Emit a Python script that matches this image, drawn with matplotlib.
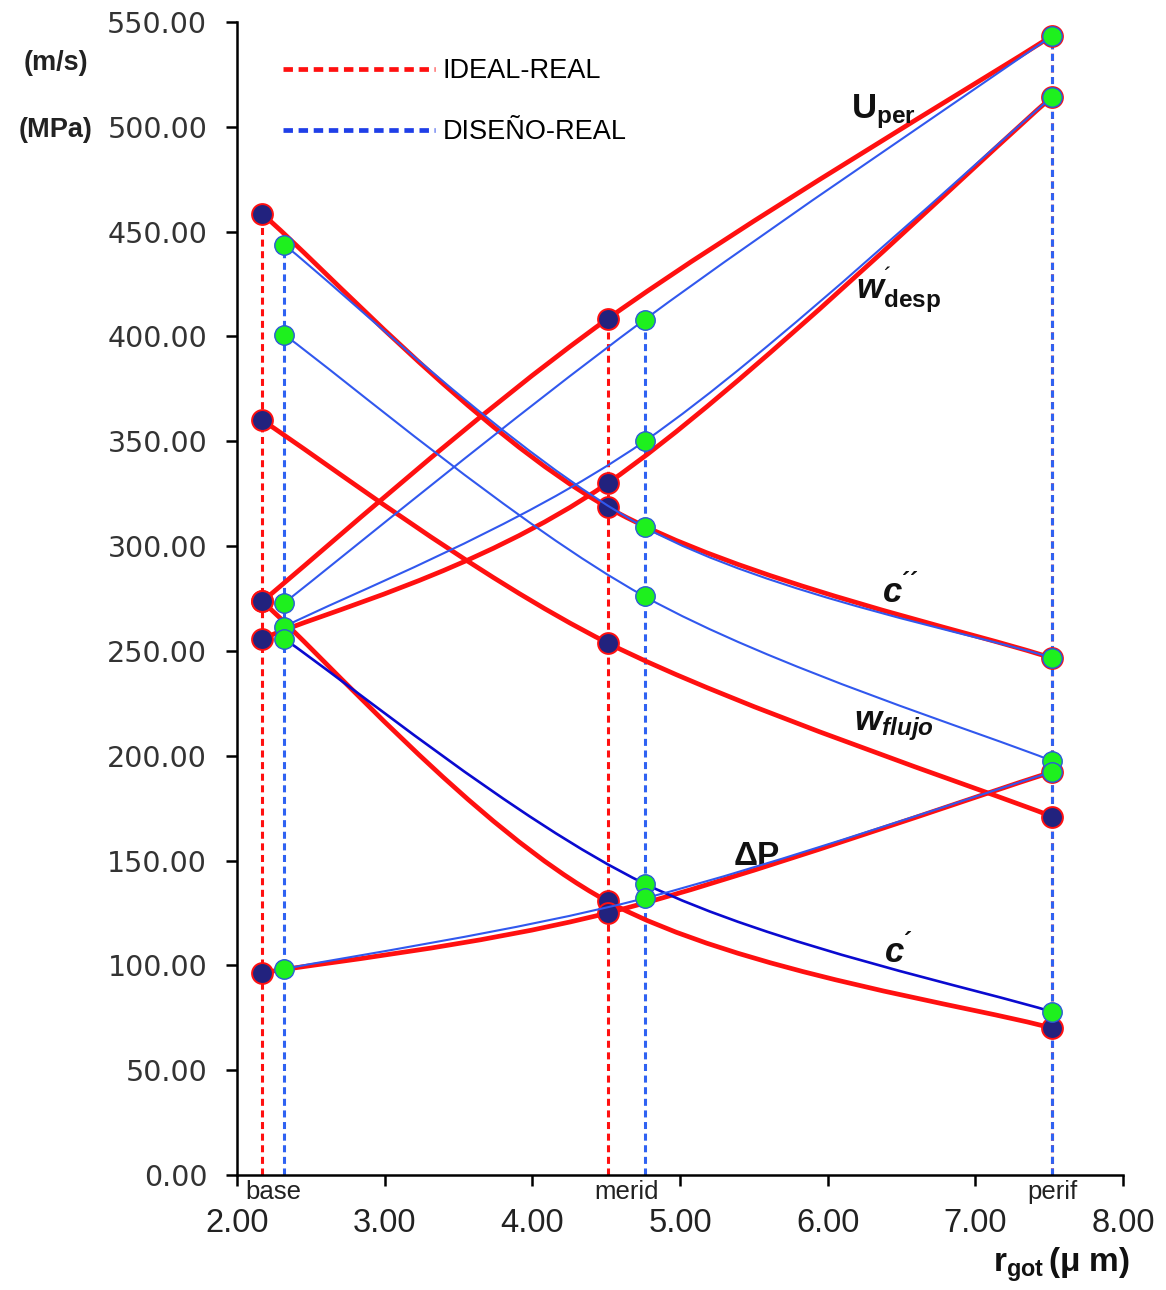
import numpy as np
import matplotlib
matplotlib.use("Agg")
import matplotlib.pyplot as plt
import matplotlib.transforms as mtransforms
from matplotlib.path import Path
from matplotlib.patches import PathPatch
from matplotlib.lines import Line2D
from matplotlib import font_manager

# narrow font if we have it, else plain Liberation Sans
names = {f.name for f in font_manager.fontManager.ttflist}
narrow = "Liberation Sans Narrow" if "Liberation Sans Narrow" in names else "Liberation Sans"

plt.rcParams["font.family"] = [narrow, "DejaVu Sans"]
plt.rcParams["mathtext.fontset"] = "custom"
plt.rcParams["mathtext.rm"] = narrow
plt.rcParams["mathtext.bf"] = narrow + ":bold"
plt.rcParams["mathtext.it"] = narrow + ":italic"
plt.rcParams["mathtext.bfit"] = narrow + ":italic:bold"

# radial positions (r_got, um)
posiciones = ["base", "merid", "perif"]
x_ideal = [2.17, 4.51, 7.52]
x_diseno = [2.32, 4.76, 7.52]

# IDEAL-REAL
ideal_uper = [273.6, 408.4, 543.4]
ideal_wdesp = [255.7, 330.0, 514.3]
ideal_c2 = [458.5, 318.5, 246.5]
ideal_wflujo = [360.0, 253.8, 171.0]
ideal_c1 = [273.6, 130.5, 70.0]
ideal_dp = [96.4, 125.0, 192.3]

# DISEÑO-REAL
diseno_uper = [272.9, 408.0, 543.4]
diseno_wdesp = [261.5, 350.0, 514.3]
diseno_c2 = [443.7, 309.0, 246.7]
diseno_wflujo = [400.8, 276.0, 197.5]
diseno_c1 = [255.7, 139.0, 77.8]
diseno_dp = [98.3, 132.0, 192.3]

ideal_series = [ideal_uper, ideal_wdesp, ideal_c2, ideal_wflujo, ideal_c1, ideal_dp]
diseno_series = [diseno_uper, diseno_wdesp, diseno_c2, diseno_wflujo, diseno_c1, diseno_dp]

x_ticks = [2, 3, 4, 5, 6, 7, 8]
y_ticks = list(range(0, 551, 50))

RED = "#ff1010"
BLUE = "#3158ee"
DARKBLUE = "#0a0ad0"
NAVY = "#22227e"
GREEN = "#1ef01e"


def smooth_path(xs, ys):
    # excel-like smoothed line: cubic bezier through the points
    pts = np.column_stack([xs, ys])
    n = len(pts)
    verts = [pts[0]]
    codes = [Path.MOVETO]
    for i in range(n - 1):
        p0 = pts[i - 1] if i > 0 else pts[i]
        p1 = pts[i]
        p2 = pts[i + 1]
        p3 = pts[i + 2] if i + 2 < n else pts[i + 1]
        verts += [p1 + (p2 - p0) / 6, p2 - (p3 - p1) / 6, p2]
        codes += [Path.CURVE4] * 3
    return Path(verts, codes)


fig = plt.figure(figsize=(11.66, 12.90), dpi=100)
ax = fig.add_axes([237 / 1166, 1 - 1175 / 1290, (1123 - 237) / 1166, (1175 - 22) / 1290])

# vertical dashed guides at each position
vdash = (0, (2.3, 1.5))
for xs, series, col in [(x_ideal, ideal_series, RED), (x_diseno, diseno_series, "#2f62f2")]:
    tops = np.max(np.array(series), axis=0)
    ax.vlines(xs, 0, tops, colors=col, lw=2.2, linestyles=vdash, zorder=1)

# IDEAL lines + markers
for ys in ideal_series:
    ax.add_patch(PathPatch(smooth_path(x_ideal, ys), fill=False, edgecolor=RED, lw=3.4,
                           capstyle="round", joinstyle="round", zorder=2))
for ys in ideal_series:
    ax.plot(x_ideal, ys, "o", ms=15, mfc=NAVY, mec=RED, mew=1.4, zorder=3)

# DISEÑO lines + markers
for ys in diseno_series:
    col = DARKBLUE if ys is diseno_c1 else BLUE
    lw = 1.9 if ys is diseno_c1 else 1.5
    ax.add_patch(PathPatch(smooth_path(x_diseno, ys), fill=False, edgecolor=col, lw=lw,
                           capstyle="round", joinstyle="round", zorder=4))
for ys in diseno_series:
    ax.plot(x_diseno, ys, "o", ms=14, mfc=GREEN, mec="#2a5ad8", mew=1.0, zorder=5)

ax.set_xlim(2, 8)
ax.set_ylim(0, 550)
ax.set_xticks(x_ticks)
ax.set_xticklabels(["%.2f" % v for v in x_ticks], fontsize=23.5, family=[narrow], color="#222222")
ax.set_yticks(y_ticks)
ax.set_yticklabels(["%.2f" % v for v in y_ticks], fontsize=20.5, family=["DejaVu Sans"], color="#333333")
ax.tick_params(axis="x", length=8, width=1.8, pad=16, direction="out")
ax.tick_params(axis="y", length=8, width=1.8, pad=13.5, direction="out")
for s in ["top", "right"]:
    ax.spines[s].set_visible(False)
for s in ["left", "bottom"]:
    ax.spines[s].set_linewidth(1.8)
    ax.spines[s].set_color("black")

# position names just under the axis
trans = mtransforms.blended_transform_factory(ax.transData, ax.transAxes)
for name, xi, xd in zip(posiciones, x_ideal, x_diseno):
    ax.text((xi + xd) / 2, -0.004, name, transform=trans, ha="center", va="top",
            fontsize=18.5, color="#222222")

# curve labels
lab = dict(fontsize=25, color="#111111", va="baseline", ha="left", zorder=6)
ax.text(6.16, 504, r"$\mathbf{U_{per}}$", **lab)
ax.text(6.19, 418, r"$\mathbfit{w}^{´}_{\mathbf{desp}}$", **lab)
ax.text(6.37, 273, r"$\mathbfit{c}^{\mathbf{´´}}$", **lab)
ax.text(6.18, 212, r"$\mathbfit{w}_{\mathbfit{flujo}}$", **lab)
ax.text(5.36, 148, "ΔP", fontsize=24, fontweight="bold", color="#111111", va="baseline", ha="left")
ax.text(6.38, 101, r"$\mathbfit{c}^{\mathbf{´}}$", **lab)

# legend
handles = [Line2D([], [], color=RED, lw=3.4, ls=(0, (2.0, 1.2))),
           Line2D([], [], color="#1f3fe8", lw=3.4, ls=(0, (2.0, 1.2)))]
ax.legend(handles, ["IDEAL-REAL", "DISEÑO-REAL"], loc="upper left",
          bbox_to_anchor=(283 / 1166, 1 - 58 / 1290), bbox_transform=fig.transFigure,
          frameon=False, borderpad=0, borderaxespad=0, handlelength=5.6,
          handletextpad=0.3, labelspacing=1.3, prop={"family": narrow, "size": 19.5})

# axis unit labels
fig.text(56 / 1166, 1 - 63 / 1290, "(m/s)", ha="center", va="center", fontsize=19.5,
         fontweight="bold", family=["Liberation Sans"], color="#222222")
fig.text(56 / 1166, 1 - 130 / 1290, "(MPa)", ha="center", va="center", fontsize=19.5,
         fontweight="bold", family=["Liberation Sans"], color="#222222")
fig.text(993 / 1166, 1 - 1272 / 1290, r"$\mathbf{r_{got}\,(μ\ m)}$", ha="left",
         va="baseline", fontsize=24, color="#111111")

fig.savefig("out.png", dpi=100, facecolor="white")
